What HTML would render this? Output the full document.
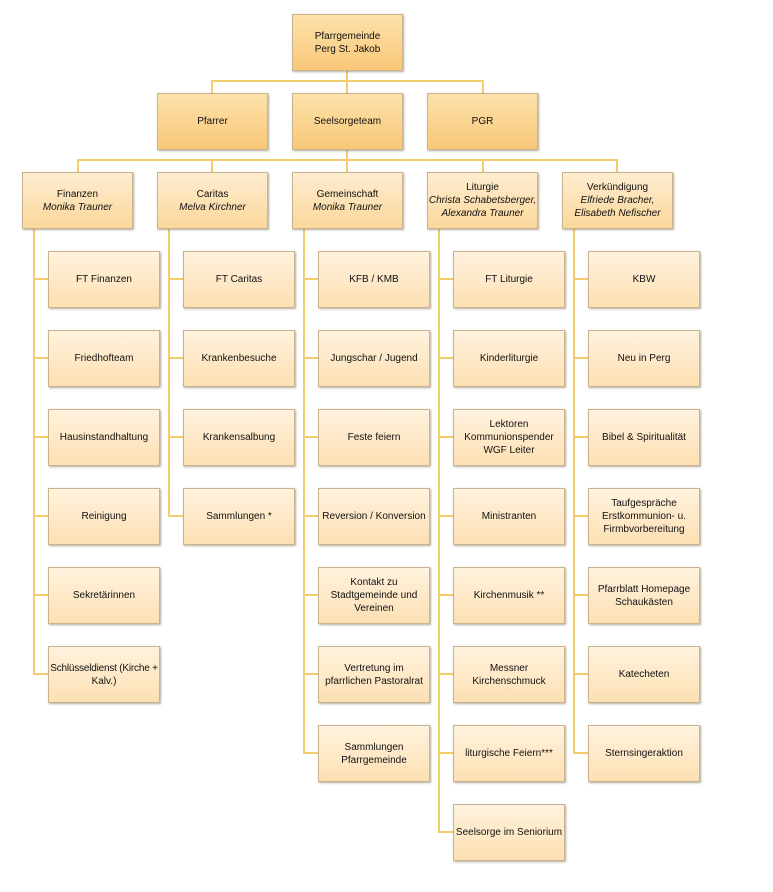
<!DOCTYPE html>
<html><head><meta charset="utf-8"><style>
body{margin:0;width:773px;height:892px;background:#fff;position:relative;font-family:"Liberation Sans",sans-serif;font-size:10px;color:#111;overflow:hidden}
.b{position:absolute;box-sizing:border-box;border:1px solid #c9b28e;box-shadow:1px 1px 2px rgba(90,70,40,.45);display:flex;align-items:center;justify-content:center;text-align:center;line-height:13px}
.b>span{display:block;white-space:nowrap}
.t{background:linear-gradient(#fde2ab,#f9c878)}
.m{background:linear-gradient(#feedd0,#fbd79a)}
.c{background:linear-gradient(#fff2de,#fde0b3)}
.l{position:absolute;background:#f3cd6c}
i{font-style:italic}
</style></head><body>
<div class="l" style="left:346px;top:71px;width:2px;height:22px"></div>
<div class="l" style="left:211px;top:80px;width:273px;height:2px"></div>
<div class="l" style="left:211px;top:80px;width:2px;height:13px"></div>
<div class="l" style="left:482px;top:80px;width:2px;height:13px"></div>
<div class="l" style="left:346px;top:150px;width:2px;height:22px"></div>
<div class="l" style="left:77px;top:159px;width:541px;height:2px"></div>
<div class="l" style="left:77px;top:159px;width:2px;height:13px"></div>
<div class="l" style="left:211px;top:159px;width:2px;height:13px"></div>
<div class="l" style="left:482px;top:159px;width:2px;height:13px"></div>
<div class="l" style="left:616px;top:159px;width:2px;height:13px"></div>
<div id="conn"></div>
<div class="b t" style="left:292px;top:14px;width:111px;height:57px"><span>Pfarrgemeinde<br>Perg St. Jakob</span></div>
<div class="b t" style="left:157px;top:93px;width:111px;height:57px"><span>Pfarrer</span></div>
<div class="b t" style="left:292px;top:93px;width:111px;height:57px"><span>Seelsorgeteam</span></div>
<div class="b t" style="left:427px;top:93px;width:111px;height:57px"><span>PGR</span></div>
<div class="b m" style="left:22px;top:172px;width:111px;height:57px"><span>Finanzen<br><i>Monika Trauner</i></span></div>
<div class="b m" style="left:157px;top:172px;width:111px;height:57px"><span>Caritas<br><i>Melva Kirchner</i></span></div>
<div class="b m" style="left:292px;top:172px;width:111px;height:57px"><span>Gemeinschaft<br><i>Monika Trauner</i></span></div>
<div class="b m" style="left:427px;top:172px;width:111px;height:57px"><span>Liturgie<br><i>Christa Schabetsberger,<br>Alexandra Trauner</i></span></div>
<div class="b m" style="left:562px;top:172px;width:111px;height:57px"><span>Verkündigung<br><i>Elfriede Bracher,<br>Elisabeth Nefischer</i></span></div>
<div id="kids"></div>
<script>
var cols=[
[22,["FT Finanzen","Friedhofteam","Hausinstandhaltung","Reinigung","Sekretärinnen","<span style='letter-spacing:-0.2px'>Schlüsseldienst (Kirche +</span><br>Kalv.)"]],
[157,["FT Caritas","Krankenbesuche","Krankensalbung","Sammlungen *"]],
[292,["KFB / KMB","Jungschar / Jugend","Feste feiern","Reversion / Konversion","Kontakt zu<br>Stadtgemeinde und<br>Vereinen","Vertretung im<br>pfarrlichen Pastoralrat","Sammlungen<br>Pfarrgemeinde"]],
[427,["FT Liturgie","Kinderliturgie","Lektoren<br>Kommunionspender<br>WGF Leiter","Ministranten","Kirchenmusik **","Messner<br>Kirchenschmuck","liturgische Feiern***","Seelsorge im Seniorium"]],
[562,["KBW","Neu in Perg","Bibel &amp; Spiritualität","Taufgespräche<br>Erstkommunion- u.<br>Firmbvorbereitung","Pfarrblatt Homepage<br>Schaukästen","Katecheten","Sternsingeraktion"]]];
var h="",c="";
cols.forEach(function(col){var x=col[0],n=col[1].length;
var lx=x+11;
c+='<div class="l" style="left:'+lx+'px;top:229px;width:2px;height:'+(251+(n-1)*79+28-229)+'px"></div>';
col[1].forEach(function(t,i){var y=251+i*79;
c+='<div class="l" style="left:'+lx+'px;top:'+(y+27)+'px;width:16px;height:2px"></div>';
h+='<div class="b c" style="left:'+(x+26)+'px;top:'+y+'px;width:112px;height:57px"><span>'+t+'</span></div>';});});
document.getElementById("conn").innerHTML=c;document.getElementById("kids").innerHTML=h;
</script>
</body></html>
